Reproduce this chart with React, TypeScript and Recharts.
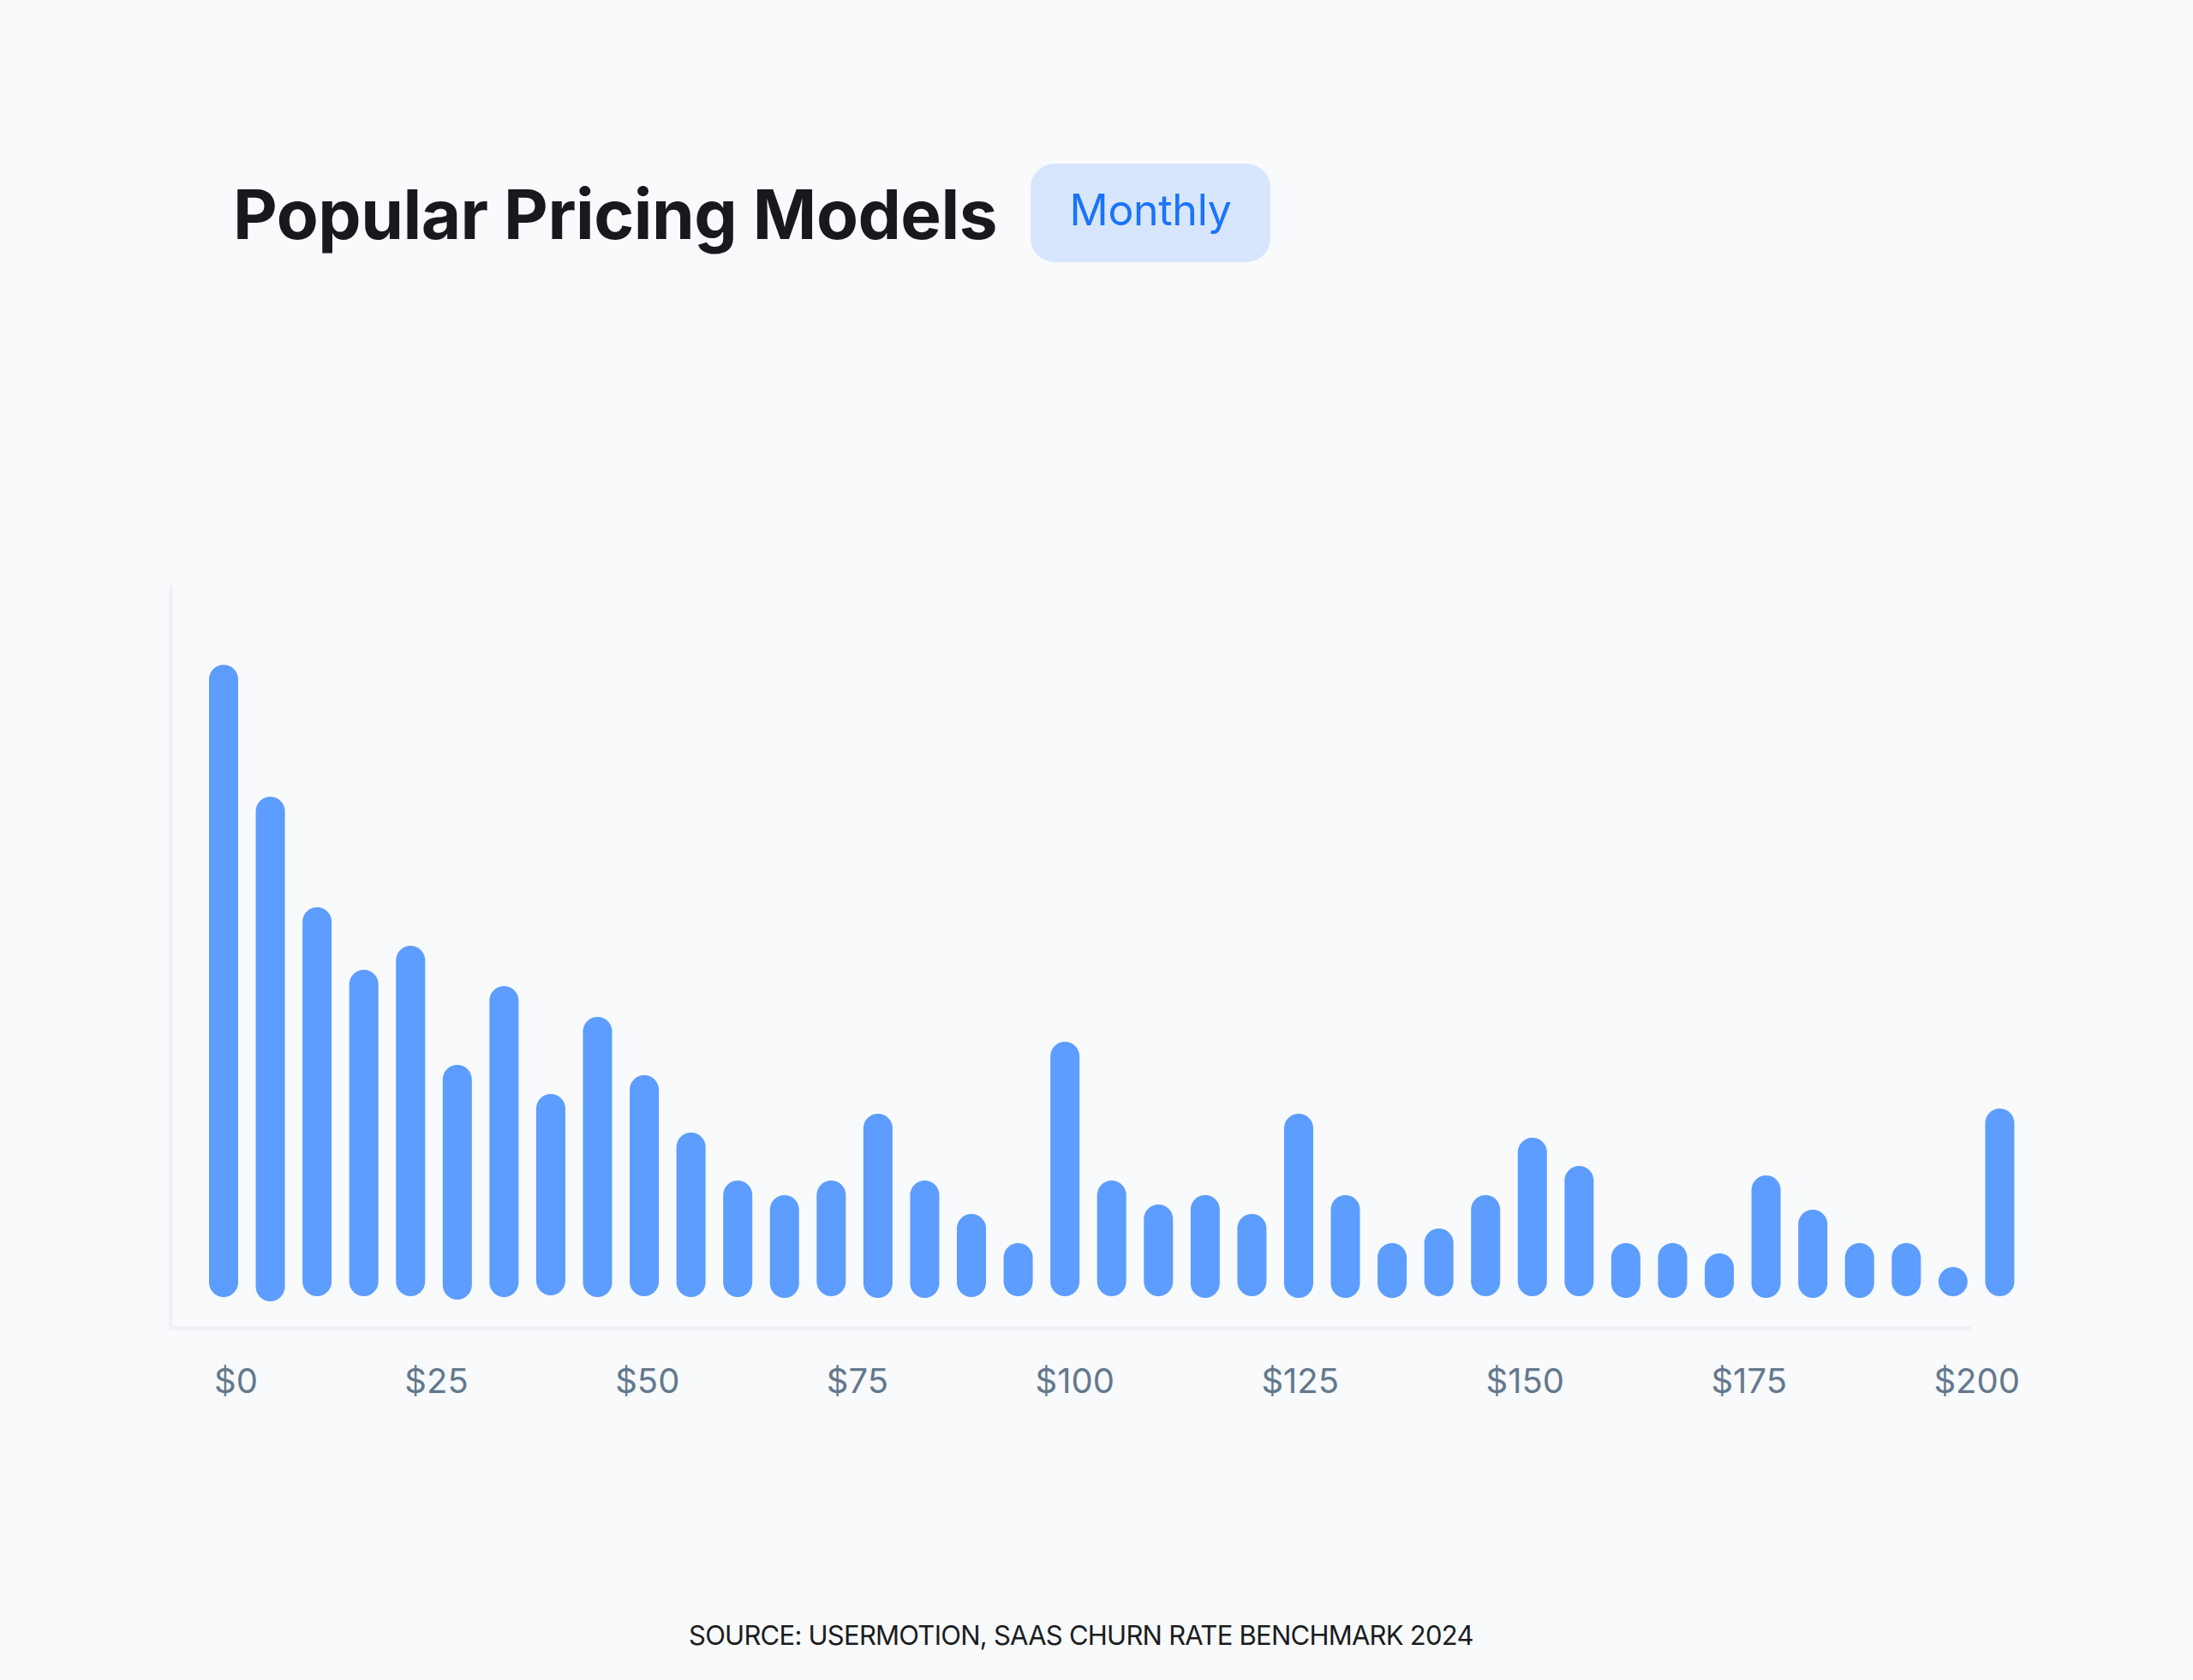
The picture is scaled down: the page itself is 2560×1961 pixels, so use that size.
import { BarChart, Bar, XAxis, YAxis } from 'recharts'

// price buckets, one bar each
const prices = [
  '$0', '$5', '$10', '$15', '$20', '$25', '$30', '$35', '$40', '$45',
  '$50', '$55', '$60', '$65', '$70', '$75', '$80', '$85', '$90', '$95',
  '$100', '$105', '$110', '$115', '$120', '$125', '$130', '$135', '$140', '$145',
  '$150', '$155', '$160', '$165', '$170', '$175', '$180', '$185', '$190',
]

// bar tops (share of pricing models)
const highs = [
  74.4, 59.0, 46.1, 38.8, 41.6, 27.7, 36.9, 24.3, 33.3, 26.5,
  19.8, 14.2, 12.5, 14.2, 22.0, 14.2, 10.3, 6.9, 30.4, 14.2,
  11.4, 12.5, 10.3, 22.0, 12.5, 6.9, 8.6, 12.5, 19.2, 15.9,
  6.9, 6.9, 5.7, 14.8, 10.8, 6.9, 6.9, 4.1, 22.6,
]

// bar bottoms are hand-drawn, not perfectly level
const lows = [
  0.6, 0.1, 0.7, 0.7, 0.7, 0.3, 0.6, 0.8, 0.6, 0.7,
  0.6, 0.6, 0.5, 0.7, 0.5, 0.5, 0.6, 0.7, 0.7, 0.7,
  0.7, 0.5, 0.7, 0.5, 0.5, 0.5, 0.7, 0.7, 0.7, 0.7,
  0.5, 0.5, 0.5, 0.5, 0.5, 0.5, 0.7, 0.7, 0.7,
]

const tickLabels = ['$0', '$25', '$50', '$75', '$100', '$125', '$150', '$175', '$200']

const FONT = 'Inter, "Noto Sans", sans-serif'

export default function App() {
  const data = prices.map((p, i) => ({ price: p, range: [lows[i], highs[i]] }))

  return (
    <div style={{ position: 'relative', width: 2560, height: 1961, background: '#f8fafc', fontFamily: FONT, overflow: 'hidden' }}>
      <style>{`body { margin: 0; }`}</style>

      {/* Title + badge */}
      <div style={{
        position: 'absolute', left: 272, top: 210, fontSize: 80, lineHeight: 1,
        fontWeight: 700, color: '#17191c', letterSpacing: '-0.5px', whiteSpace: 'nowrap',
      }}>
        Popular Pricing Models
      </div>
      <div style={{
        position: 'absolute', left: 1203, top: 191, width: 280, height: 115,
        background: '#d7e6fd', borderRadius: 28,
      }}>
        <div style={{
          position: 'absolute', left: 0, right: 0, top: 29, textAlign: 'center',
          fontSize: 50, lineHeight: 1, color: '#1a73fa', letterSpacing: '-0.3px', whiteSpace: 'nowrap',
        }}>
          Monthly
        </div>
      </div>

      {/* Frame */}
      <div style={{
        position: 'absolute', left: 197, top: 683, width: 2302 - 197, height: 1553 - 683,
        borderLeft: '5px solid #f0f2f5', borderBottom: '5px solid #f0f2f5', boxSizing: 'border-box',
      }} />

      {/* Chart */}
      <div style={{ position: 'absolute', left: 0, top: 0 }}>
        <BarChart width={2560} height={1560} data={data} margin={{ top: 700, right: 198, bottom: 40, left: 234 }}>
          <XAxis dataKey="price" hide />
          <YAxis type="number" domain={[0, 82]} hide allowDataOverflow />
          <Bar dataKey="range" fill="#5c9dff" barSize={34} radius={17} isAnimationActive={false} />
        </BarChart>
      </div>

      {/* Price axis labels */}
      <div style={{
        position: 'absolute', left: 250, width: 2358 - 250, top: 1592,
        display: 'flex', justifyContent: 'space-between',
        fontSize: 40, lineHeight: 1, color: '#64788c',
      }}>
        {tickLabels.map(t => <span key={t}>{t}</span>)}
      </div>

      {/* Source */}
      <div style={{
        position: 'absolute', left: 804, top: 1893, fontSize: 31, lineHeight: 1,
        color: '#1b1c1e', letterSpacing: '-0.75px', whiteSpace: 'nowrap',
      }}>
        SOURCE: USERMOTION, SAAS CHURN RATE BENCHMARK 2024
      </div>
    </div>
  )
}
